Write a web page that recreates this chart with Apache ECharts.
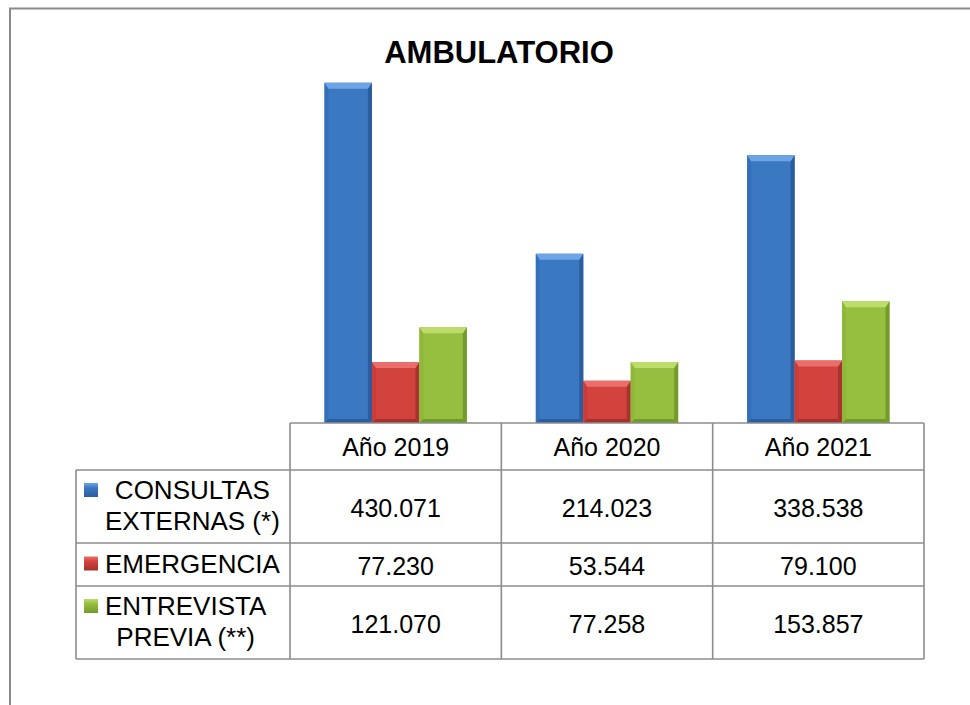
<!DOCTYPE html>
<html>
<head>
<meta charset="utf-8">
<script src="https://cdn.jsdelivr.net/npm/echarts@6/dist/echarts.min.js"></script>
<style>
  body { margin: 0; background: #fff; }
  #chart { width: 970px; height: 705px; }
</style>
</head>
<body>
<div id="chart"></div>
<script>
var years = ['Año 2019', 'Año 2020', 'Año 2021'];
var seriesNames = ['CONSULTAS EXTERNAS (*)', 'EMERGENCIA', 'ENTREVISTA PREVIA (**)'];
var legendLines = [['CONSULTAS', 'EXTERNAS (*)'], ['EMERGENCIA'], ['ENTREVISTA', 'PREVIA (**)']];
var consultas = [430071, 214023, 338538];
var emergencia = [77230, 53544, 79100];
var entrevista = [121070, 77258, 153857];

var allValues = [consultas, emergencia, entrevista];

var palettes = [
    { main: '#3b78c2', top: '#6ea4e6', left: '#3470b9', right: '#2a5c9e', bottom: '#2b5e9f' },
    { main: '#d2433e', top: '#ea6f6a', left: '#c93c37', right: '#a8322f', bottom: '#a5302d' },
    { main: '#96bf40', top: '#bddd6b', left: '#8fb83a', right: '#749a2c', bottom: '#729a2b' }
];

// table layout
var gridLeft = 290, gridRight = 924, baseY = 423;
var rowTops = [423, 470, 543, 586, 659];
var legendLeft = 76;
var lineColor = '#8c8c8c';
var fontFamily = '"Liberation Sans", Arial, sans-serif';
var cellFont = 25, legendFont = 26;

var chart = echarts.init(document.getElementById('chart'), null, { renderer: 'svg' });

function formatNum(v) {
    return String(v).replace(/\B(?=(\d{3})+(?!\d))/g, '.');
}

var measureCtx = document.createElement('canvas').getContext('2d');
measureCtx.font = legendFont + 'px ' + fontFamily;

function renderBar(params, api) {
    var idx = api.value(0);
    var val = api.value(1);
    var base = api.coord([idx, 0]);
    var top = api.coord([idx, val]);
    var bw = api.size([1, 0])[0] * 0.2245;
    var x0 = base[0] - 1.5 * bw + params.seriesIndex * bw;
    var x1 = x0 + bw;
    var y0 = top[1], y1 = base[1];
    var b = 6, s = 4;
    var c = palettes[params.seriesIndex];
    return {
        type: 'group',
        children: [
            { type: 'rect', shape: { x: x0, y: y0, width: bw, height: y1 - y0 }, style: { fill: c.main } },
            { type: 'polygon', shape: { points: [[x0, y0], [x0 + s, y0 + b], [x0 + s, y1 - s], [x0, y1]] }, style: { fill: c.left } },
            { type: 'polygon', shape: { points: [[x1, y0], [x1 - s, y0 + b], [x1 - s, y1 - s], [x1, y1]] }, style: { fill: c.right } },
            { type: 'polygon', shape: { points: [[x0, y1], [x1, y1], [x1 - s, y1 - s], [x0 + s, y1 - s]] }, style: { fill: c.bottom } },
            { type: 'polygon', shape: { points: [[x0, y0], [x1, y0], [x1 - s, y0 + b], [x0 + s, y0 + b]] }, style: { fill: c.top } }
        ]
    };
}

var series = allValues.map(function (vals, i) {
    return {
        name: seriesNames[i],
        type: 'custom',
        renderItem: renderBar,
        encode: { x: 0, y: 1 },
        data: vals.map(function (v, j) { return [j, v]; })
    };
});

var graphics = [];
function hline(x1, x2, y, color, w) {
    graphics.push({ type: 'line', shape: { x1: x1, y1: y, x2: x2, y2: y }, style: { stroke: color || lineColor, lineWidth: w || 1.6 }, z: 10 });
}
function vline(x, y1, y2, color, w) {
    graphics.push({ type: 'line', shape: { x1: x, y1: y1, x2: x, y2: y2 }, style: { stroke: color || lineColor, lineWidth: w || 1.6 }, z: 10 });
}

// outer frame
hline(9, 970, 8.5, '#8a8a8a', 2);
vline(10, 8, 705, '#8a8a8a', 2);

// table grid
var colW = (gridRight - gridLeft) / years.length;
hline(gridLeft, gridRight, rowTops[0]);
for (var r = 1; r < rowTops.length; r++) hline(legendLeft, gridRight, rowTops[r]);
vline(legendLeft, rowTops[1], rowTops[4]);
for (var k = 0; k <= years.length; k++) vline(gridLeft + k * colW, rowTops[0], rowTops[4]);

// values and legend cells
allValues.forEach(function (vals, i) {
    var cy = (rowTops[i + 1] + rowTops[i + 2]) / 2;
    vals.forEach(function (v, j) {
        graphics.push({
            type: 'text', x: gridLeft + (j + 0.5) * colW, y: cy + 1,
            style: { text: formatNum(v), fill: '#000', font: cellFont + 'px ' + fontFamily, textAlign: 'center', textVerticalAlign: 'middle' }
        });
    });
    var lines = legendLines[i];
    var lh = 31;
    var maxW = Math.max.apply(null, lines.map(function (t) { return measureCtx.measureText(t).width; }));
    var textX = 105 + maxW / 2;
    var firstY = cy - (lines.length - 1) * lh / 2 - 1;
    lines.forEach(function (t, n) {
        graphics.push({
            type: 'text', x: textX, y: firstY + n * lh,
            style: { text: t, fill: '#000', font: legendFont + 'px ' + fontFamily, textAlign: 'center', textVerticalAlign: 'middle' }
        });
    });
    var c = palettes[i];
    graphics.push({
        type: 'rect', shape: { x: 84, y: firstY - 7, width: 14, height: 14 },
        style: {
            fill: new echarts.graphic.LinearGradient(0, 0, 0, 1, [
                { offset: 0, color: c.top }, { offset: 0.35, color: c.main }, { offset: 1, color: c.bottom }
            ])
        }
    });
});

var option = {
    animation: false,
    backgroundColor: '#fff',
    title: {
        text: 'AMBULATORIO',
        left: 494,
        top: 32,
        textAlign: 'center',
        textStyle: { fontFamily: fontFamily, fontSize: 31, fontWeight: 'bold', color: '#000' }
    },
    grid: { left: gridLeft, right: 970 - gridRight, top: 67, bottom: 705 - baseY },
    xAxis: {
        type: 'category',
        data: years,
        axisLine: { show: false },
        axisTick: { show: false },
        axisLabel: { margin: 11, fontFamily: fontFamily, fontSize: cellFont, color: '#000' }
    },
    yAxis: {
        type: 'value',
        min: 0,
        max: 450000,
        show: false,
        splitLine: { show: false }
    },
    graphic: graphics,
    series: series
};

chart.setOption(option);
</script>
</body>
</html>
